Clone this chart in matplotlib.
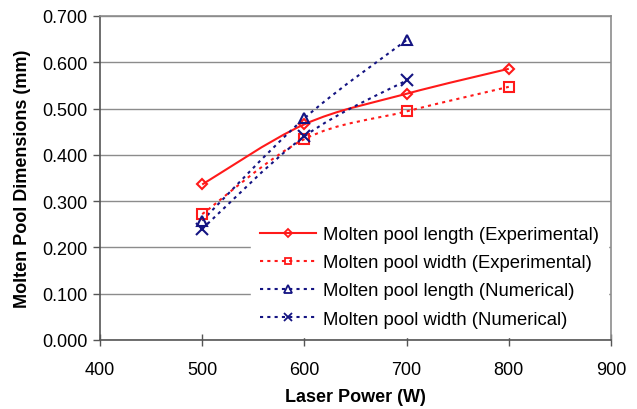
import matplotlib
matplotlib.use("Agg")
import matplotlib.pyplot as plt
from matplotlib.path import Path
from matplotlib.patches import PathPatch
from matplotlib.lines import Line2D
import numpy as np

plt.rcParams['font.family'] = ['Liberation Sans', 'DejaVu Sans']

power_exp = [500, 600, 700, 800]
length_exp = [0.336, 0.466, 0.532, 0.586]
width_exp = [0.272, 0.434, 0.494, 0.547]
power_num = [500, 600, 700]
length_num = [0.258, 0.479, 0.648]
width_num = [0.240, 0.440, 0.561]

labels = ["Molten pool length (Experimental)",
          "Molten pool width (Experimental)",
          "Molten pool length (Numerical)",
          "Molten pool width (Numerical)"]

RED = "#ff1a1a"
NAVY = "#141482"

fig = plt.figure(figsize=(6.37, 4.10), dpi=100)
ax = fig.add_axes([100/637, 1-341/410, 511/637, 324/410])


def smooth_path(xs, ys):
    p = np.column_stack([xs, ys]).astype(float)
    n = len(p)
    verts = [p[0]]
    codes = [Path.MOVETO]
    for i in range(n - 1):
        p0 = p[i - 1] if i > 0 else p[i]
        p1 = p[i]
        p2 = p[i + 1]
        p3 = p[i + 2] if i + 2 < n else p[i + 1]
        c1 = p1 + (p2 - p0) / 6.0
        c2 = p2 - (p3 - p1) / 6.0
        verts += [c1, c2, p2]
        codes += [Path.CURVE4] * 3
    return Path(verts, codes)


series = [
    (power_exp, length_exp, RED, '-', 'D', 5.5),
    (power_exp, width_exp, RED, (0, (1.5, 2.0)), 's', 6.5),
    (power_num, length_num, NAVY, (0, (1.5, 2.0)), '^', 7),
    (power_num, width_num, NAVY, (0, (1.5, 2.0)), 'x', 8),
]

handles = []
for (xs, ys, c, ls, mk, ms), lab in zip(series, labels):
    patch = PathPatch(smooth_path(xs, ys), fill=False, edgecolor=c,
                      linewidth=1.5, linestyle=ls, zorder=3)
    ax.add_patch(patch)
    ax.plot(xs, ys, linestyle='none', marker=mk, markersize=ms,
            markerfacecolor='none', markeredgecolor=c, markeredgewidth=1.5,
            zorder=4)
    handles.append(Line2D([], [], color=c, linestyle=ls, linewidth=1.5,
                          marker=mk, markersize=ms * 0.75,
                          markerfacecolor='none', markeredgecolor=c,
                          markeredgewidth=1.3))

ax.set_xlim(400, 900)
ax.set_ylim(0, 0.7)
ax.set_xticks([400, 500, 600, 700, 800, 900])
ax.set_yticks(np.arange(0, 0.71, 0.1))
ax.set_yticklabels([f"{v:.3f}" for v in np.arange(0, 0.71, 0.1)])
ax.yaxis.grid(True, color='#8c8c8c', linewidth=1.0)
ax.set_axisbelow(True)

for s in ['left', 'bottom']:
    ax.spines[s].set_color('#555555')
    ax.spines[s].set_linewidth(1.2)
for s in ['top', 'right']:
    ax.spines[s].set_color('#8c8c8c')
    ax.spines[s].set_linewidth(1.2)
for s in ax.spines.values():
    s.set_zorder(6)

ax.tick_params(axis='y', direction='out', length=5, width=1, color='#555555',
               labelsize=13, pad=4)
ax.tick_params(axis='x', direction='inout', length=8, width=1, color='#555555',
               labelsize=13, pad=11)

ax.set_xlabel("Laser Power (W)", fontsize=13, fontweight='bold', labelpad=7)
ax.set_ylabel("Molten Pool Dimensions (mm)", fontsize=13, fontweight='bold',
              labelpad=8)

leg = ax.legend(handles=handles, labels=labels, loc='lower right',
                bbox_to_anchor=(0.995, 0.01), fontsize=13.3, frameon=True,
                fancybox=False, framealpha=1, edgecolor='white',
                facecolor='white', handlelength=3.0, handletextpad=0.4,
                labelspacing=0.6, borderpad=0.5, borderaxespad=0.0)
leg.set_zorder(5)

fig.savefig("out.png", dpi=100)
